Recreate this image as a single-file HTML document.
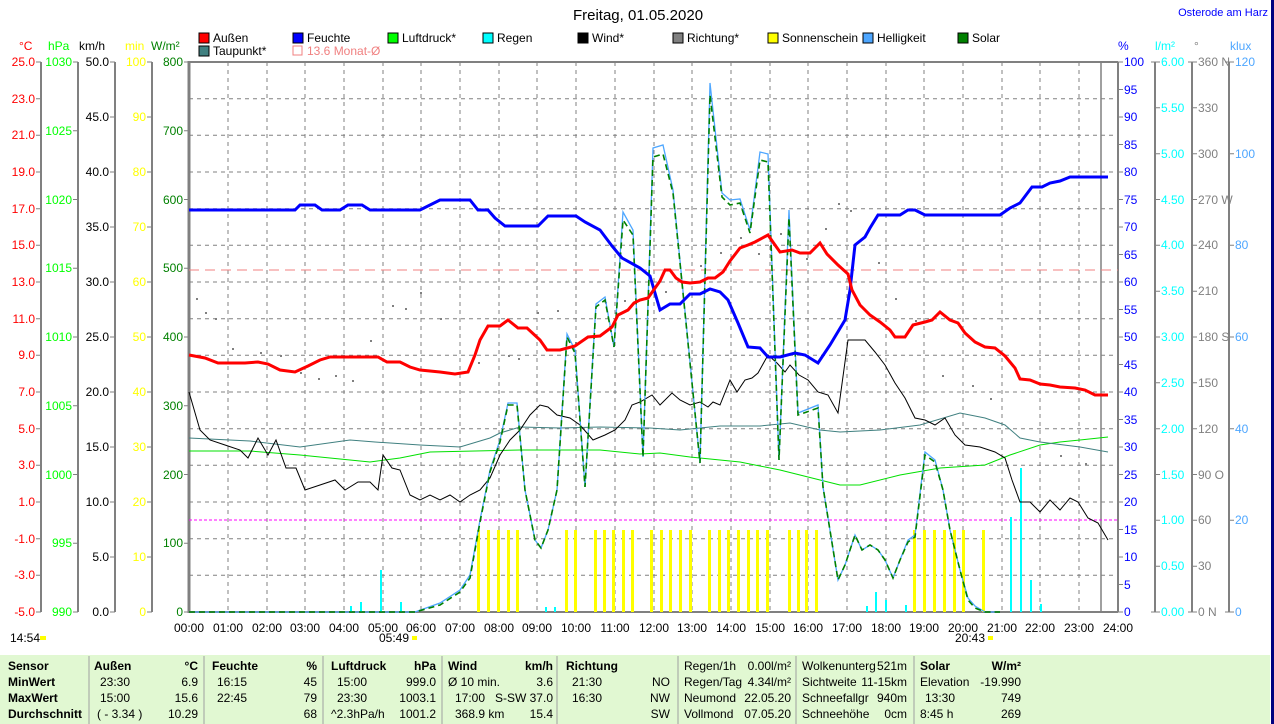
<!DOCTYPE html>
<html><head><meta charset="utf-8"><style>
body{margin:0;background:#fff;width:1274px;height:724px;overflow:hidden;font-family:"Liberation Sans",sans-serif}
svg text{font-family:"Liberation Sans",sans-serif;font-size:12px}
</style></head><body>
<div style="position:absolute;left:0;top:655px;width:1270px;height:69px;background:#e1f8d2"></div>
<svg width="1274" height="724" style="position:absolute;left:0;top:0">
<rect x="1271" y="0" width="3" height="724" fill="#000080"/>
<text x="638" y="20" text-anchor="middle" style="font-size:15px">Freitag, 01.05.2020</text>
<text x="1268" y="16" text-anchor="end" fill="#0000ff" style="font-size:11px">Osterode am Harz</text>
<g style="font-size:11px">
<rect x="199" y="33" width="10" height="10" fill="#f00" stroke="#000"/><text x="213" y="42">Außen</text>
<rect x="293" y="33" width="10" height="10" fill="#00f" stroke="#000"/><text x="307" y="42">Feuchte</text>
<rect x="388" y="33" width="10" height="10" fill="#0f0" stroke="#000"/><text x="402" y="42">Luftdruck*</text>
<rect x="483" y="33" width="10" height="10" fill="#0ff" stroke="#000"/><text x="497" y="42">Regen</text>
<rect x="578" y="33" width="10" height="10" fill="#000" stroke="#000"/><text x="592" y="42">Wind*</text>
<rect x="673" y="33" width="10" height="10" fill="#808080" stroke="#000"/><text x="687" y="42">Richtung*</text>
<rect x="768" y="33" width="10" height="10" fill="#ff0" stroke="#000"/><text x="782" y="42">Sonnenschein</text>
<rect x="863" y="33" width="10" height="10" fill="#4da6ff" stroke="#000"/><text x="877" y="42">Helligkeit</text>
<rect x="958" y="33" width="10" height="10" fill="#008000" stroke="#000"/><text x="972" y="42">Solar</text>
<rect x="199" y="46" width="10" height="10" fill="#408080" stroke="#000"/><text x="213" y="55">Taupunkt*</text>
<rect x="293" y="46" width="9" height="9" fill="none" stroke="#f08080"/><text x="307" y="55" fill="#f08080">13.6 Monat-Ø</text>
</g>
<text x="19" y="50" fill="#f00">°C</text>
<text x="48" y="50" fill="#0f0">hPa</text>
<text x="79" y="50">km/h</text>
<text x="125" y="50" fill="#ff0">min</text>
<text x="151" y="50" fill="#008000">W/m²</text>
<text x="1118" y="50" fill="#00f">%</text>
<text x="1155" y="50" fill="#0ff">l/m²</text>
<text x="1194" y="50" fill="#808080">°</text>
<text x="1230" y="50" fill="#4da6ff">klux</text>
<g stroke="#808080" stroke-dasharray="4,4" stroke-width="1">
<path d="M228 62V612M267 62V612M305 62V612M344 62V612M383 62V612M421 62V612M460 62V612M499 62V612M537 62V612M576 62V612M615 62V612M654 62V612M692 62V612M731 62V612M770 62V612M808 62V612M847 62V612M886 62V612M924 62V612M963 62V612M1002 62V612M1040 62V612M1079 62V612"/>
<path d="M189 98.7H1118M189 135.3H1118M189 172H1118M189 208.7H1118M189 245.3H1118M189 282H1118M189 318.7H1118M189 355.3H1118M189 392H1118M189 428.7H1118M189 465.3H1118M189 502H1118M189 538.7H1118M189 575.3H1118"/>
</g>
<g stroke="#808080" stroke-width="2" fill="none">
<path d="M41 62V612M78 62V612M115 62V612M152 62V612M1155 62V612M1192 62V612M1229 62V612"/>
<path d="M189 62H1118M1118 62V612M189 612H1118"/>
<path d="M1101 62V612" stroke-width="1.5"/>
<path d="M189 61V613" stroke-width="3"/>
</g>
<g stroke="#808080" stroke-width="1">
<path d="M36 62H41M36 98.7H41M36 135.3H41M36 172H41M36 208.7H41M36 245.3H41M36 282H41M36 318.7H41M36 355.3H41M36 392H41M36 428.7H41M36 465.3H41M36 502H41M36 538.7H41M36 575.3H41M36 612H41"/>
<path d="M73 62H78M73 130.75H78M73 199.5H78M73 268.25H78M73 337H78M73 405.75H78M73 474.5H78M73 543.25H78M73 612H78"/>
<path d="M110 62H115M110 117H115M110 172H115M110 227H115M110 282H115M110 337H115M110 392H115M110 447H115M110 502H115M110 557H115M110 612H115"/>
<path d="M147 62H152M147 117H152M147 172H152M147 227H152M147 282H152M147 337H152M147 392H152M147 447H152M147 502H152M147 557H152M147 612H152"/>
<path d="M184 62H189M184 130.75H189M184 199.5H189M184 268.25H189M184 337H189M184 405.75H189M184 474.5H189M184 543.25H189M184 612H189"/>
<path d="M1118 62H1123M1118 89.5H1123M1118 117H1123M1118 144.5H1123M1118 172H1123M1118 199.5H1123M1118 227H1123M1118 254.5H1123M1118 282H1123M1118 309.5H1123M1118 337H1123M1118 364.5H1123M1118 392H1123M1118 419.5H1123M1118 447H1123M1118 474.5H1123M1118 502H1123M1118 529.5H1123M1118 557H1123M1118 584.5H1123M1118 612H1123"/>
<path d="M1151 62H1160M1155 107.8H1160M1155 153.7H1160M1155 199.5H1160M1155 245.3H1160M1155 291.2H1160M1155 337H1160M1155 382.8H1160M1155 428.7H1160M1155 474.5H1160M1155 520.3H1160M1155 566.2H1160M1151 612H1160"/>
<path d="M1188 62H1197M1192 107.8H1197M1192 153.7H1197M1192 199.5H1197M1192 245.3H1197M1192 291.2H1197M1192 337H1197M1192 382.8H1197M1192 428.7H1197M1192 474.5H1197M1192 520.3H1197M1192 566.2H1197M1188 612H1197"/>
<path d="M1225 62H1234M1229 153.7H1234M1229 245.3H1234M1229 337H1234M1229 428.7H1234M1229 520.3H1234M1225 612H1234"/>
</g>
<g fill="#f00" text-anchor="end">
<text x="35" y="66">25.0</text><text x="35" y="103">23.0</text><text x="35" y="139">21.0</text><text x="35" y="176">19.0</text><text x="35" y="213">17.0</text><text x="35" y="249">15.0</text><text x="35" y="286">13.0</text><text x="35" y="323">11.0</text><text x="35" y="359">9.0</text><text x="35" y="396">7.0</text><text x="35" y="433">5.0</text><text x="35" y="469">3.0</text><text x="35" y="506">1.0</text><text x="35" y="543">-1.0</text><text x="35" y="579">-3.0</text><text x="35" y="616">-5.0</text>
</g>
<g fill="#0f0" text-anchor="end">
<text x="72" y="66">1030</text><text x="72" y="135">1025</text><text x="72" y="204">1020</text><text x="72" y="272">1015</text><text x="72" y="341">1010</text><text x="72" y="410">1005</text><text x="72" y="479">1000</text><text x="72" y="547">995</text><text x="72" y="616">990</text>
</g>
<g fill="#000" text-anchor="end">
<text x="109" y="66">50.0</text><text x="109" y="121">45.0</text><text x="109" y="176">40.0</text><text x="109" y="231">35.0</text><text x="109" y="286">30.0</text><text x="109" y="341">25.0</text><text x="109" y="396">20.0</text><text x="109" y="451">15.0</text><text x="109" y="506">10.0</text><text x="109" y="561">5.0</text><text x="109" y="616">0.0</text>
</g>
<g fill="#ff0" text-anchor="end">
<text x="146" y="66">100</text><text x="146" y="121">90</text><text x="146" y="176">80</text><text x="146" y="231">70</text><text x="146" y="286">60</text><text x="146" y="341">50</text><text x="146" y="396">40</text><text x="146" y="451">30</text><text x="146" y="506">20</text><text x="146" y="561">10</text><text x="146" y="616">0</text>
</g>
<g fill="#008000" text-anchor="end">
<text x="183" y="66">800</text><text x="183" y="135">700</text><text x="183" y="204">600</text><text x="183" y="272">500</text><text x="183" y="341">400</text><text x="183" y="410">300</text><text x="183" y="479">200</text><text x="183" y="547">100</text><text x="183" y="616">0</text>
</g>
<g fill="#00f">
<text x="1124" y="66">100</text><text x="1124" y="94">95</text><text x="1124" y="121">90</text><text x="1124" y="149">85</text><text x="1124" y="176">80</text><text x="1124" y="204">75</text><text x="1124" y="231">70</text><text x="1124" y="259">65</text><text x="1124" y="286">60</text><text x="1124" y="314">55</text><text x="1124" y="341">50</text><text x="1124" y="369">45</text><text x="1124" y="396">40</text><text x="1124" y="424">35</text><text x="1124" y="451">30</text><text x="1124" y="479">25</text><text x="1124" y="506">20</text><text x="1124" y="534">15</text><text x="1124" y="561">10</text><text x="1124" y="589">5</text><text x="1124" y="616">0</text>
</g>
<g fill="#0ff">
<text x="1161" y="66">6.00</text><text x="1161" y="112">5.50</text><text x="1161" y="158">5.00</text><text x="1161" y="204">4.50</text><text x="1161" y="249">4.00</text><text x="1161" y="295">3.50</text><text x="1161" y="341">3.00</text><text x="1161" y="387">2.50</text><text x="1161" y="433">2.00</text><text x="1161" y="479">1.50</text><text x="1161" y="524">1.00</text><text x="1161" y="570">0.50</text><text x="1161" y="616">0.00</text>
</g>
<g fill="#808080">
<text x="1198" y="66">360 N</text><text x="1198" y="112">330</text><text x="1198" y="158">300</text><text x="1198" y="204">270 W</text><text x="1198" y="249">240</text><text x="1198" y="295">210</text><text x="1198" y="341">180 S</text><text x="1198" y="387">150</text><text x="1198" y="433">120</text><text x="1198" y="479">90 O</text><text x="1198" y="524">60</text><text x="1198" y="570">30</text><text x="1198" y="616">0 N</text>
</g>
<g fill="#4da6ff">
<text x="1235" y="66">120</text><text x="1235" y="158">100</text><text x="1235" y="249">80</text><text x="1235" y="341">60</text><text x="1235" y="433">40</text><text x="1235" y="524">20</text><text x="1235" y="616">0</text>
</g>
<g text-anchor="middle">
<text x="189" y="632">00:00</text><text x="228" y="632">01:00</text><text x="267" y="632">02:00</text><text x="305" y="632">03:00</text><text x="344" y="632">04:00</text><text x="383" y="632">05:00</text><text x="421" y="632">06:00</text><text x="460" y="632">07:00</text><text x="499" y="632">08:00</text><text x="537" y="632">09:00</text><text x="576" y="632">10:00</text><text x="615" y="632">11:00</text><text x="654" y="632">12:00</text><text x="692" y="632">13:00</text><text x="731" y="632">14:00</text><text x="770" y="632">15:00</text><text x="808" y="632">16:00</text><text x="847" y="632">17:00</text><text x="886" y="632">18:00</text><text x="924" y="632">19:00</text><text x="963" y="632">20:00</text><text x="1002" y="632">21:00</text><text x="1040" y="632">22:00</text><text x="1079" y="632">23:00</text><text x="1118" y="632">24:00</text>
<text x="394" y="642">05:49</text><text x="970" y="642">20:43</text>
</g>
<text x="10" y="642">14:54</text>
<rect x="40" y="636" width="6" height="4" fill="#ff0"/>
<rect x="412" y="636" width="5" height="4" fill="#ff0"/>
<rect x="988" y="636" width="5" height="4" fill="#ff0"/>
<path d="M189 270H1118" stroke="#f08080" stroke-dasharray="10,6"/>
<path d="M189 520H1118" stroke="#ff00ff" stroke-dasharray="3,2"/>
<g fill="#ff0">
<rect x="477" y="530" width="3" height="82"/><rect x="487" y="530" width="3" height="82"/><rect x="497" y="530" width="3" height="82"/><rect x="507" y="530" width="3" height="82"/><rect x="516" y="530" width="3" height="82"/>
<rect x="565" y="530" width="3" height="82"/><rect x="574" y="530" width="3" height="82"/>
<rect x="594" y="530" width="3" height="82"/><rect x="603" y="530" width="3" height="82"/><rect x="612" y="530" width="3" height="82"/><rect x="622" y="530" width="3" height="82"/><rect x="631" y="530" width="3" height="82"/>
<rect x="650" y="530" width="3" height="82"/><rect x="660" y="530" width="3" height="82"/><rect x="669" y="530" width="3" height="82"/><rect x="679" y="530" width="3" height="82"/><rect x="689" y="530" width="3" height="82"/>
<rect x="708" y="530" width="3" height="82"/><rect x="718" y="530" width="3" height="82"/><rect x="727" y="530" width="3" height="82"/><rect x="737" y="530" width="3" height="82"/><rect x="747" y="530" width="3" height="82"/><rect x="756" y="530" width="3" height="82"/><rect x="766" y="530" width="3" height="82"/>
<rect x="788" y="530" width="3" height="82"/><rect x="797" y="530" width="3" height="82"/><rect x="805" y="530" width="3" height="82"/><rect x="815" y="530" width="3" height="82"/>
<rect x="913" y="530" width="3" height="82"/><rect x="923" y="530" width="3" height="82"/><rect x="933" y="530" width="3" height="82"/><rect x="943" y="530" width="3" height="82"/><rect x="953" y="530" width="3" height="82"/><rect x="962" y="530" width="3" height="82"/><rect x="982" y="530" width="3" height="82"/>
</g>
<g fill="#0ff">
<rect x="350" y="606" width="2" height="6"/><rect x="360" y="602" width="2" height="10"/><rect x="380" y="570" width="2" height="42"/><rect x="400" y="602" width="2" height="10"/><rect x="545" y="607" width="2" height="5"/><rect x="554" y="607" width="2" height="5"/><rect x="866" y="606" width="2" height="6"/><rect x="875" y="592" width="2" height="20"/><rect x="885" y="600" width="2" height="12"/><rect x="905" y="605" width="2" height="7"/><rect x="1010" y="517" width="2" height="95"/><rect x="1020" y="468" width="2" height="144"/><rect x="1030" y="580" width="2" height="32"/><rect x="1040" y="604" width="2" height="8"/>
</g>
<g fill="#808080">
<rect x="196" y="298" width="2" height="2"/><rect x="205" y="312" width="2" height="2"/><rect x="215" y="318" width="2" height="2"/><rect x="232" y="348" width="2" height="2"/><rect x="260" y="352" width="2" height="2"/><rect x="280" y="355" width="2" height="2"/><rect x="300" y="372" width="2" height="2"/><rect x="318" y="378" width="2" height="2"/><rect x="335" y="375" width="2" height="2"/><rect x="352" y="380" width="2" height="2"/><rect x="370" y="340" width="2" height="2"/><rect x="392" y="305" width="2" height="2"/><rect x="405" y="308" width="2" height="2"/><rect x="420" y="292" width="2" height="2"/><rect x="440" y="318" width="2" height="2"/><rect x="478" y="362" width="2" height="2"/><rect x="508" y="355" width="2" height="2"/><rect x="518" y="358" width="2" height="2"/><rect x="537" y="312" width="2" height="2"/><rect x="557" y="310" width="2" height="2"/><rect x="575" y="342" width="2" height="2"/><rect x="605" y="302" width="2" height="2"/><rect x="624" y="300" width="2" height="2"/><rect x="665" y="291" width="2" height="2"/><rect x="700" y="265" width="2" height="2"/><rect x="720" y="252" width="2" height="2"/><rect x="740" y="237" width="2" height="2"/><rect x="758" y="253" width="2" height="2"/><rect x="780" y="233" width="2" height="2"/><rect x="806" y="258" width="2" height="2"/><rect x="825" y="228" width="2" height="2"/><rect x="838" y="203" width="2" height="2"/><rect x="850" y="210" width="2" height="2"/><rect x="878" y="262" width="2" height="2"/><rect x="895" y="298" width="2" height="2"/><rect x="915" y="320" width="2" height="2"/><rect x="942" y="375" width="2" height="2"/><rect x="972" y="385" width="2" height="2"/><rect x="990" y="398" width="2" height="2"/><rect x="1060" y="455" width="2" height="2"/><rect x="1085" y="463" width="2" height="2"/>
</g>
<polyline fill="none" stroke="#00e000" stroke-width="1" points="189,451 250,451 300,455 370,462 400,458 430,452 520,450 600,450 640,454 660,453 690,457 740,462 780,470 820,480 840,485 860,485 900,475 940,468 985,465 1010,455 1040,445 1060,442 1080,440 1108,437"/>
<polyline fill="none" stroke="#408080" stroke-width="1" points="189,438 250,441 300,447 350,440 375,442 420,445 460,447 490,438 500,433 520,427 560,428 600,427 650,428 680,430 720,426 760,426 790,423 820,430 840,432 880,430 920,425 960,413 985,418 1005,425 1020,438 1040,442 1080,447 1108,452"/>
<polyline fill="none" stroke="#000" stroke-width="1" points="189,392 200,430 210,440 225,445 240,450 248,458 258,438 268,455 276,440 286,468 296,468 305,490 320,485 335,480 345,490 358,482 370,482 378,490 383,455 392,468 400,470 410,495 420,500 430,495 440,500 450,495 460,502 470,495 480,490 490,478 500,455 510,440 520,430 530,415 540,405 548,407 557,415 570,418 580,425 593,440 605,435 615,430 625,420 632,405 640,402 652,395 660,405 672,393 680,400 690,405 700,402 708,407 713,402 720,405 730,380 737,392 745,380 752,378 758,373 768,355 777,363 785,372 790,365 799,375 808,380 818,392 828,395 838,413 848,340 855,340 865,340 875,352 885,365 895,383 905,398 915,418 925,420 935,425 945,418 955,435 965,445 980,447 995,452 1005,458 1012,480 1020,502 1030,502 1040,512 1050,500 1060,510 1070,498 1078,502 1088,518 1098,523 1108,540"/>
<polyline fill="none" stroke="#4da6ff" stroke-width="1.3" points="189,612 415,612 440,603 460,590 470,575 480,520 490,470 500,440 508,403 517,403 525,490 535,540 541,548 548,530 557,490 567,334 575,350 585,487 596,304 605,297 614,347 623,212 633,230 643,457 653,148 663,145 673,190 700,463 710,83 722,193 730,200 740,199 750,230 760,152 768,154 779,460 789,210 798,413 818,405 823,487 838,580 845,565 855,535 862,550 870,545 878,550 885,560 893,578 900,560 908,540 915,535 925,452 935,460 943,490 950,530 960,570 968,598 975,606 985,612 1000,612"/>
<polyline fill="none" stroke="#008000" stroke-width="1.6" stroke-dasharray="6,4" points="189,612 415,612 440,605 460,592 470,578 480,522 490,472 500,442 508,405 517,405 525,490 535,540 541,548 548,530 557,490 567,337 575,353 585,487 596,307 605,300 614,347 623,220 633,235 643,457 653,157 663,154 673,193 700,463 710,95 722,197 730,205 740,203 750,233 760,160 768,162 779,460 789,218 798,415 818,408 823,487 838,580 845,565 855,535 862,550 870,545 878,550 885,560 893,578 900,560 908,542 915,537 925,455 935,462 943,490 950,530 960,570 968,600 975,608 985,612 1000,612"/>
<polyline fill="none" stroke="#0000ff" stroke-width="3" points="189,210 295,210 300,205 315,205 322,210 340,210 348,205 362,205 370,210 420,210 440,200 470,200 478,210 488,210 495,218 505,226 538,226 548,216 576,216 585,222 600,230 612,246 622,258 640,268 650,276 660,310 670,304 680,304 690,294 700,294 710,289 720,292 728,300 738,323 748,347 760,348 768,357 780,357 795,353 805,355 818,363 830,345 845,320 850,290 855,245 865,237 870,228 878,215 900,215 908,210 915,210 925,215 1000,215 1010,208 1020,203 1032,187 1042,187 1050,183 1060,181 1070,177 1108,177"/>
<polyline fill="none" stroke="#ff0000" stroke-width="3" points="189,355 205,358 218,363 245,363 258,362 268,364 280,370 295,372 308,366 320,360 330,357 378,357 387,362 400,362 410,367 420,370 440,372 455,374 468,372 475,355 480,340 488,326 500,326 508,320 518,328 527,328 540,340 547,350 560,350 575,346 588,337 600,336 612,327 618,315 628,310 634,303 640,300 648,298 660,281 665,270 670,270 676,278 682,282 690,283 700,282 708,278 715,278 723,272 730,261 740,248 748,245 755,242 768,235 775,245 780,252 792,250 800,253 810,253 820,243 827,254 838,265 848,274 852,290 860,305 870,315 880,322 890,330 895,337 905,337 913,325 925,322 932,320 940,312 950,320 958,323 965,333 975,342 985,347 995,348 1005,356 1015,368 1020,379 1030,380 1040,384 1050,385 1060,387 1075,388 1085,390 1095,395 1108,395"/>
<g stroke="#a0a0a0" stroke-width="1">
<path d="M89 656V724M204 656V724M323 656V724M442 656V724M557 656V724M678 656V724M796 656V724M914 656V724"/>
</g>
<g style="font-size:12px">
<text x="8" y="670" font-weight="bold">Sensor</text>
<text x="8" y="686" font-weight="bold">MinWert</text>
<text x="8" y="702" font-weight="bold">MaxWert</text>
<text x="8" y="718" font-weight="bold">Durchschnitt</text>
<text x="94" y="670" font-weight="bold">Außen</text><text x="198" y="670" font-weight="bold" text-anchor="end">°C</text>
<text x="100" y="686">23:30</text><text x="198" y="686" text-anchor="end">6.9</text>
<text x="100" y="702">15:00</text><text x="198" y="702" text-anchor="end">15.6</text>
<text x="97" y="718">( - 3.34 )</text><text x="198" y="718" text-anchor="end">10.29</text>
<text x="212" y="670" font-weight="bold">Feuchte</text><text x="317" y="670" font-weight="bold" text-anchor="end">%</text>
<text x="217" y="686">16:15</text><text x="317" y="686" text-anchor="end">45</text>
<text x="217" y="702">22:45</text><text x="317" y="702" text-anchor="end">79</text>
<text x="317" y="718" text-anchor="end">68</text>
<text x="331" y="670" font-weight="bold">Luftdruck</text><text x="436" y="670" font-weight="bold" text-anchor="end">hPa</text>
<text x="337" y="686">15:00</text><text x="436" y="686" text-anchor="end">999.0</text>
<text x="337" y="702">23:30</text><text x="436" y="702" text-anchor="end">1003.1</text>
<text x="331" y="718">^2.3hPa/h</text><text x="436" y="718" text-anchor="end">1001.2</text>
<text x="448" y="670" font-weight="bold">Wind</text><text x="553" y="670" font-weight="bold" text-anchor="end">km/h</text>
<text x="448" y="686">Ø 10 min.</text><text x="553" y="686" text-anchor="end">3.6</text>
<text x="455" y="702">17:00</text><text x="553" y="702" text-anchor="end">S-SW 37.0</text>
<text x="455" y="718">368.9 km</text><text x="553" y="718" text-anchor="end">15.4</text>
<text x="566" y="670" font-weight="bold">Richtung</text>
<text x="572" y="686">21:30</text><text x="670" y="686" text-anchor="end">NO</text>
<text x="572" y="702">16:30</text><text x="670" y="702" text-anchor="end">NW</text>
<text x="670" y="718" text-anchor="end">SW</text>
<text x="684" y="670">Regen/1h</text><text x="791" y="670" text-anchor="end">0.00l/m²</text>
<text x="684" y="686">Regen/Tag</text><text x="791" y="686" text-anchor="end">4.34l/m²</text>
<text x="684" y="702">Neumond</text><text x="791" y="702" text-anchor="end">22.05.20</text>
<text x="684" y="718">Vollmond</text><text x="791" y="718" text-anchor="end">07.05.20</text>
<text x="802" y="670">Wolkenunterg</text><text x="907" y="670" text-anchor="end">521m</text>
<text x="802" y="686">Sichtweite</text><text x="907" y="686" text-anchor="end">11-15km</text>
<text x="802" y="702">Schneefallgr</text><text x="907" y="702" text-anchor="end">940m</text>
<text x="802" y="718">Schneehöhe</text><text x="907" y="718" text-anchor="end">0cm</text>
<text x="920" y="670" font-weight="bold">Solar</text><text x="1021" y="670" font-weight="bold" text-anchor="end">W/m²</text>
<text x="920" y="686">Elevation</text><text x="1021" y="686" text-anchor="end">-19.990</text>
<text x="925" y="702">13:30</text><text x="1021" y="702" text-anchor="end">749</text>
<text x="920" y="718">8:45 h</text><text x="1021" y="718" text-anchor="end">269</text>
</g>
</svg>
</body></html>
